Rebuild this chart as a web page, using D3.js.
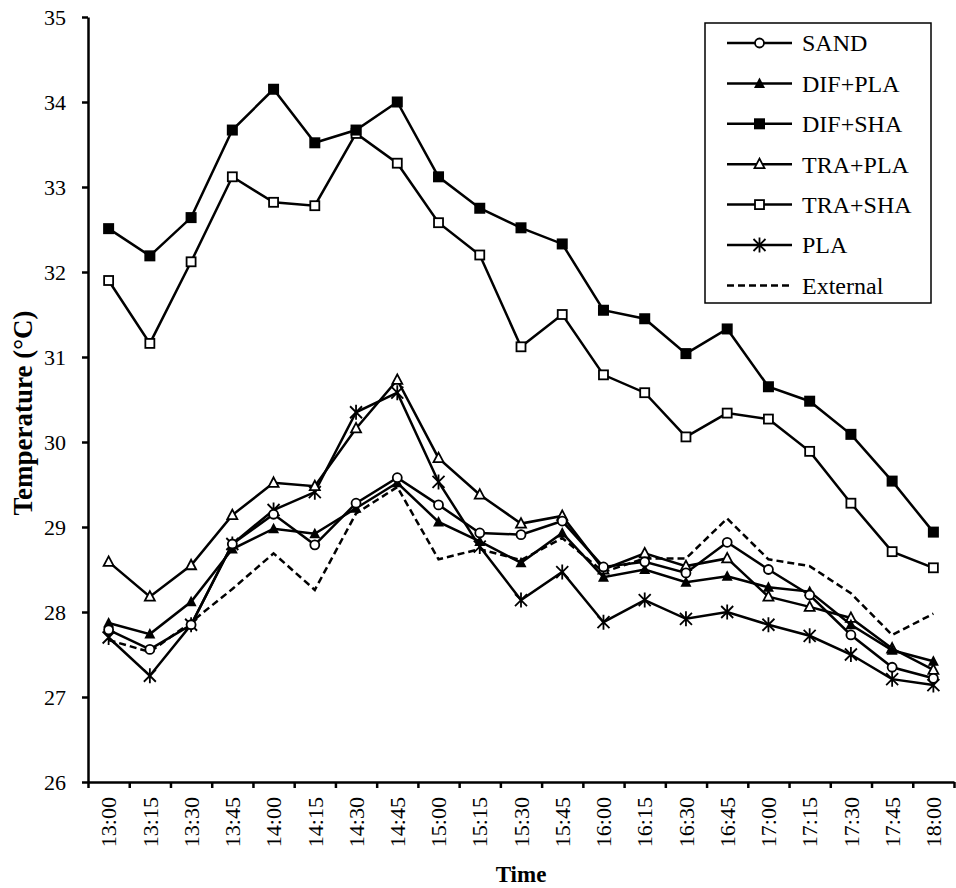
<!DOCTYPE html>
<html>
<head>
<meta charset="utf-8">
<script src="https://cdn.jsdelivr.net/npm/d3@7"></script>
<style>
  body { margin: 0; background: #fff; }
  svg text { font-family: "Liberation Serif", "Times New Roman", serif; fill: #000; }
</style>
</head>
<body>
<div id="chart"></div>
<script>
// datos
const times = ["13:00","13:15","13:30","13:45","14:00","14:15","14:30","14:45","15:00","15:15","15:30",
  "15:45","16:00","16:15","16:30","16:45","17:00","17:15","17:30","17:45","18:00"]
const yTicks = [26, 27, 28, 29, 30, 31, 32, 33, 34, 35]

const sand   = [27.79, 27.56, 27.85, 28.80, 29.15, 28.79, 29.28, 29.58, 29.26, 28.93, 28.91, 29.07, 28.53, 28.59, 28.46, 28.82, 28.50, 28.20, 27.73, 27.35, 27.22]
const difPla = [27.87, 27.74, 28.12, 28.74, 28.98, 28.92, 29.22, 29.52, 29.06, 28.83, 28.58, 28.93, 28.41, 28.50, 28.35, 28.42, 28.29, 28.24, 27.85, 27.55, 27.42]
const difSha = [32.51, 32.19, 32.64, 33.67, 34.15, 33.52, 33.67, 34.00, 33.12, 32.75, 32.52, 32.33, 31.55, 31.45, 31.04, 31.33, 30.65, 30.48, 30.09, 29.54, 28.94]
const traPla = [28.59, 28.18, 28.55, 29.14, 29.52, 29.48, 30.16, 30.73, 29.81, 29.38, 29.04, 29.13, 28.50, 28.69, 28.54, 28.63, 28.18, 28.06, 27.93, 27.57, 27.32]
const traSha = [31.90, 31.16, 32.12, 33.12, 32.82, 32.78, 33.63, 33.28, 32.58, 32.20, 31.12, 31.50, 30.79, 30.58, 30.06, 30.34, 30.27, 29.89, 29.28, 28.71, 28.52]
const pla    = [27.70, 27.25, 27.85, 28.80, 29.20, 29.41, 30.35, 30.58, 29.53, 28.77, 28.14, 28.47, 27.88, 28.14, 27.92, 28.00, 27.85, 27.72, 27.50, 27.21, 27.14]
const external = [27.67, 27.53, 27.88, 28.27, 28.69, 28.26, 29.16, 29.47, 28.62, 28.74, 28.61, 28.87, 28.47, 28.63, 28.63, 29.10, 28.62, 28.54, 28.22, 27.73, 27.98]

const series = [
  { name: "SAND", values: sand, marker: "circle" },
  { name: "DIF+PLA", values: difPla, marker: "triFill" },
  { name: "DIF+SHA", values: difSha, marker: "sqFill" },
  { name: "TRA+PLA", values: traPla, marker: "triOpen" },
  { name: "TRA+SHA", values: traSha, marker: "sqOpen" },
  { name: "PLA", values: pla, marker: "star" },
  { name: "External", values: external, marker: "none", dash: "7,4" }
]

// márgenes
const width = 956
const height = 888
const margin = { top: 17, bottom: 106, right: 2, left: 88 }
const innerW = width - margin.left - margin.right
const innerH = height - margin.top - margin.bottom

const svg = d3.select("#chart").append("svg").attr("width", width).attr("height", height)
const elementGroup = svg.append("g").attr("transform", `translate(${margin.left}, ${margin.top})`)
const axisGroup = svg.append("g")
const xAxisGroup = axisGroup.append("g").attr("transform", `translate(${margin.left}, ${margin.top + innerH})`)
const yAxisGroup = axisGroup.append("g").attr("transform", `translate(${margin.left}, ${margin.top})`)

// escalas
const x = d3.scaleBand().domain(times).range([0, innerW])
const xEdges = d3.scaleLinear().domain([0, times.length]).range([0, innerW])
const y = d3.scaleLinear().domain([26, 35]).range([innerH, 0])

// ejes
yAxisGroup.call(d3.axisLeft(y).tickValues(yTicks).tickSize(6).tickSizeOuter(0).tickPadding(16))
yAxisGroup.selectAll("text").attr("font-size", 22)
yAxisGroup.selectAll("line, path").attr("stroke", "#000").attr("stroke-width", 2.5)

xAxisGroup.call(d3.axisBottom(xEdges).tickValues(d3.range(times.length + 1)).tickFormat("").tickSize(6).tickSizeOuter(0))
xAxisGroup.selectAll("line, path").attr("stroke", "#000").attr("stroke-width", 2.5)
xAxisGroup.selectAll("text.lbl").data(times).enter().append("text")
  .attr("class", "lbl")
  .attr("transform", d => `translate(${x(d) + x.bandwidth() / 2}, 15) rotate(-90)`)
  .attr("text-anchor", "end")
  .attr("dy", "0.35em")
  .attr("font-size", 22)
  .text(d => d)

// títulos
svg.append("text").text("Time")
  .attr("x", margin.left + innerW / 2).attr("y", 882)
  .attr("text-anchor", "middle").attr("font-size", 23).attr("font-weight", "bold")
svg.append("text").text("Temperature (°C)")
  .attr("transform", "translate(32, 413) rotate(-90)")
  .attr("text-anchor", "middle").attr("font-size", 27).attr("font-weight", "bold")

// marcadores
function drawMarker(g, type) {
  if (type === "circle") g.append("circle").attr("r", 4.5).attr("fill", "#fff").attr("stroke", "#000").attr("stroke-width", 1.8)
  if (type === "triFill") g.append("path").attr("d", "M0,-6L5.5,4.5L-5.5,4.5Z").attr("fill", "#000")
  if (type === "triOpen") g.append("path").attr("d", "M0,-5.5L5,4L-5,4Z").attr("fill", "#fff").attr("stroke", "#000").attr("stroke-width", 1.8)
  if (type === "sqFill") g.append("rect").attr("x", -5.5).attr("y", -5.5).attr("width", 11).attr("height", 11).attr("fill", "#000")
  if (type === "sqOpen") g.append("rect").attr("x", -4.5).attr("y", -4.5).attr("width", 9).attr("height", 9).attr("fill", "#fff").attr("stroke", "#000").attr("stroke-width", 1.8)
  if (type === "star") g.append("path").attr("d", "M-6,-6L6,6M-6,6L6,-6M0,-7.5L0,7.5").attr("stroke", "#000").attr("stroke-width", 1.8).attr("fill", "none")
}

const line = d3.line().x((d, i) => x(times[i]) + x.bandwidth() / 2).y(d => y(d))

series.slice().reverse().forEach(s => {
  elementGroup.append("path")
    .datum(s.values)
    .attr("d", line)
    .attr("fill", "none")
    .attr("stroke", "#000")
    .attr("stroke-width", 2.5)
    .attr("stroke-dasharray", s.dash || null)
  if (s.marker !== "none") {
    s.values.forEach((v, i) => {
      const g = elementGroup.append("g").attr("transform", `translate(${x(times[i]) + x.bandwidth() / 2}, ${y(v)})`)
      drawMarker(g, s.marker)
    })
  }
})

// leyenda
const legend = svg.append("g")
legend.append("rect").attr("x", 705).attr("y", 23).attr("width", 226).attr("height", 280)
  .attr("fill", "#fff").attr("stroke", "#000").attr("stroke-width", 1.5)
series.forEach((s, i) => {
  const ly = 43 + i * 40.4
  const g = legend.append("g").attr("transform", `translate(0, ${ly})`)
  g.append("line").attr("x1", 727).attr("x2", 792).attr("y1", 0).attr("y2", 0)
    .attr("stroke", "#000").attr("stroke-width", 2.5).attr("stroke-dasharray", s.dash || null)
  if (s.marker !== "none") drawMarker(g.append("g").attr("transform", "translate(759.5, 0)"), s.marker)
  g.append("text").text(s.name).attr("x", 802).attr("dy", "0.35em").attr("font-size", 24)
})
</script>
</body>
</html>
